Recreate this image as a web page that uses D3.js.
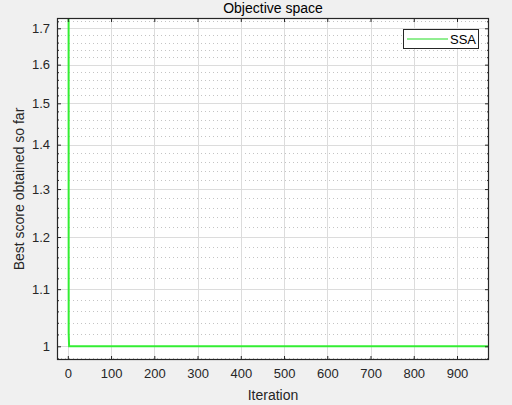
<!DOCTYPE html>
<html>
<head>
<meta charset="utf-8">
<script src="https://cdn.jsdelivr.net/npm/d3@7"></script>
<style>
html,body{margin:0;padding:0;background:#f0f0f0;}
svg{display:block;font-family:"Liberation Sans",Arial,Helvetica,sans-serif;}
</style>
</head>
<body>
<svg id="chart" width="512" height="405"></svg>
<script>
// Data
const iterations = [1, 2, 3, 1000];
const bestScore = [30, 1.022, 1.0, 1.0];
const seriesName = "SSA";
const xTicks = [0, 100, 200, 300, 400, 500, 600, 700, 800, 900];
const yTicks = [1, 1.1, 1.2, 1.3, 1.4, 1.5, 1.6, 1.7];
const yMinorTicks = [0.98, 1.02, 1.04, 1.06, 1.08, 1.12, 1.14, 1.16, 1.18, 1.22, 1.24, 1.26, 1.28,
  1.32, 1.34, 1.36, 1.38, 1.42, 1.44, 1.46, 1.48, 1.52, 1.54, 1.56, 1.58, 1.62, 1.64, 1.66, 1.68, 1.72];
const titleText = "Objective space";
const xLabel = "Iteration";
const yLabel = "Best score obtained so far";

const L = 57, R = 489, T = 18, B = 360;
const svg = d3.select("#chart");
const x = d3.scaleLinear().domain([-25, 974]).range([L, R]);
const y = d3.scaleLog().domain([0.9774, 1.7295]).range([B, T]);

svg.append("rect").attr("x", L).attr("y", T).attr("width", R - L).attr("height", B - T).attr("fill", "#fff");

// minor grid (horizontal, dotted)
svg.append("g").selectAll("line").data(yMinorTicks).join("line")
  .attr("x1", L).attr("x2", R).attr("y1", d => Math.round(y(d)) + 0.5).attr("y2", d => Math.round(y(d)) + 0.5)
  .attr("stroke", "#c4c4c4").attr("stroke-width", 1).attr("stroke-dasharray", "1,3");
// major grid
svg.append("g").selectAll("line").data(yTicks).join("line")
  .attr("x1", L).attr("x2", R).attr("y1", d => Math.round(y(d)) + 0.5).attr("y2", d => Math.round(y(d)) + 0.5)
  .attr("stroke", "#dcdcdc").attr("stroke-width", 1);
svg.append("g").selectAll("line").data(xTicks).join("line")
  .attr("y1", T).attr("y2", B).attr("x1", d => Math.round(x(d)) + 0.5).attr("x2", d => Math.round(x(d)) + 0.5)
  .attr("stroke", "#dcdcdc").attr("stroke-width", 1);

// data line
svg.append("clipPath").attr("id", "clip").append("rect")
  .attr("x", L).attr("y", T).attr("width", R - L).attr("height", B - T);
const pts = iterations.map((it, i) => [it, bestScore[i]]);
svg.append("path").datum(pts)
  .attr("clip-path", "url(#clip)")
  .attr("d", d3.line().x(d => x(d[0])).y(d => y(d[1])))
  .attr("fill", "none").attr("stroke", "#33ee33").attr("stroke-width", 2);

// axes
const axColor = "#262626";
const fmtY = d => d3.format("")(+d.toFixed(1));
const gB = svg.append("g").attr("transform", `translate(0,${B})`)
  .call(d3.axisBottom(x).tickValues(xTicks).tickSize(-4).tickPadding(9).tickFormat(d3.format("d")));
const gT = svg.append("g").attr("transform", `translate(0,${T})`)
  .call(d3.axisTop(x).tickValues(xTicks).tickSize(-4).tickFormat(""));
const gL = svg.append("g").attr("transform", `translate(${L},0)`)
  .call(d3.axisLeft(y).tickValues(yTicks).tickSize(-4).tickPadding(7).tickFormat(fmtY));
const gR = svg.append("g").attr("transform", `translate(${R},0)`)
  .call(d3.axisRight(y).tickValues(yTicks).tickSize(-4).tickFormat(""));
const gLm = svg.append("g").attr("transform", `translate(${L},0)`)
  .call(d3.axisLeft(y).tickValues(yMinorTicks).tickSize(-2).tickFormat(""));
const gRm = svg.append("g").attr("transform", `translate(${R},0)`)
  .call(d3.axisRight(y).tickValues(yMinorTicks).tickSize(-2).tickFormat(""));
[gB, gT, gL, gR, gLm, gRm].forEach(g => {
  g.select(".domain").remove();
  g.selectAll("line").attr("stroke", axColor);
  g.selectAll("text").attr("fill", axColor).attr("font-size", 13).attr("font-family", "Liberation Sans, Arial, sans-serif");
});
svg.append("rect").attr("x", L + 0.5).attr("y", T + 0.5).attr("width", R - L - 1).attr("height", B - T - 1)
  .attr("fill", "none").attr("stroke", axColor).attr("stroke-width", 1.2);

// title & labels
svg.append("text").attr("x", (L + R) / 2).attr("y", 13).attr("text-anchor", "middle")
  .attr("font-size", 14).attr("fill", "#000").text(titleText);
svg.append("text").attr("x", (L + R) / 2).attr("y", 400).attr("text-anchor", "middle")
  .attr("font-size", 14).attr("fill", axColor).text(xLabel);
svg.append("text").attr("transform", `translate(24,${(T + B) / 2}) rotate(-90)`).attr("text-anchor", "middle")
  .attr("font-size", 14).attr("fill", axColor).text(yLabel);

// legend
const lg = svg.append("g");
lg.append("rect").attr("x", 403.5).attr("y", 29.5).attr("width", 75).attr("height", 19)
  .attr("fill", "#fff").attr("stroke", axColor).attr("stroke-width", 1);
lg.append("line").attr("x1", 407).attr("x2", 448).attr("y1", 39).attr("y2", 39)
  .attr("stroke", "#22dd22").attr("stroke-width", 1);
lg.append("text").attr("x", 450).attr("y", 44).attr("font-size", 13).attr("fill", "#000").text(seriesName);
</script>
</body>
</html>
